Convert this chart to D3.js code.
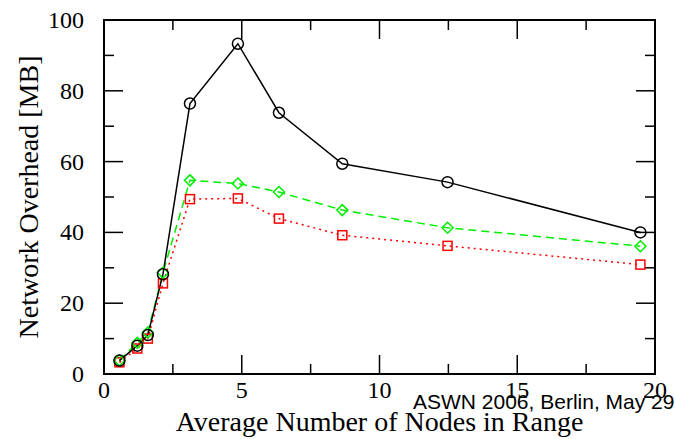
<!DOCTYPE html>
<html>
<head>
<meta charset="utf-8">
<script src="https://cdn.jsdelivr.net/npm/d3@7"></script>
<style>
  body { margin: 0; background: #fff; }
  svg { display: block; }
</style>
</head>
<body>
<svg></svg>
<script>
const [w, h] = [675, 439];
const m = {left: 104, right: 20, top: 20, bottom: 65};

// x: average number of nodes in range
const nodes = [0.56, 1.21, 1.59, 2.14, 3.12, 4.86, 6.35, 8.65, 12.47, 19.47];
// network overhead [MB]
const seriesBlack = [3.8, 8.0, 11.0, 28.2, 76.4, 93.3, 73.8, 59.4, 54.2, 40.0];
const seriesGreen = [3.9, 8.8, 11.7, 28.6, 54.7, 53.8, 51.4, 46.3, 41.3, 36.1];
const seriesRed   = [3.3, 7.2, 10.0, 25.6, 49.4, 49.6, 43.9, 39.2, 36.2, 30.9];

const xTicks = [0, 5, 10, 15, 20];
const xMinor = [2.5, 7.5, 12.5, 17.5];
const yTicks = [0, 20, 40, 60, 80, 100];
const yMinor = [10, 30, 50, 70, 90];

const svg = d3.select('svg').attr('width', w).attr('height', h);

const xScale = d3.scaleLinear().domain([0, 20]).range([m.left, w - m.right]);
const yScale = d3.scaleLinear().domain([0, 100]).range([h - m.bottom, m.top]);

const serif = 'Liberation Serif, Times New Roman, serif';
const major = 19, minor = 10;

// ticks on all four sides, pointing inward
const ticks = svg.append('g').attr('stroke', '#000').attr('stroke-width', 1.5);
xTicks.concat(xMinor).forEach(v => {
  const len = xTicks.includes(v) ? major : minor;
  ticks.append('line').attr('x1', xScale(v)).attr('x2', xScale(v))
    .attr('y1', yScale(0)).attr('y2', yScale(0) - len);
  ticks.append('line').attr('x1', xScale(v)).attr('x2', xScale(v))
    .attr('y1', yScale(100)).attr('y2', yScale(100) + len);
});
yTicks.concat(yMinor).forEach(v => {
  const len = yTicks.includes(v) ? major : minor;
  ticks.append('line').attr('y1', yScale(v)).attr('y2', yScale(v))
    .attr('x1', xScale(0)).attr('x2', xScale(0) + len);
  ticks.append('line').attr('y1', yScale(v)).attr('y2', yScale(v))
    .attr('x1', xScale(20)).attr('x2', xScale(20) - len);
});

svg.append('rect')
  .attr('x', xScale(0)).attr('y', yScale(100))
  .attr('width', xScale(20) - xScale(0)).attr('height', yScale(0) - yScale(100))
  .attr('fill', 'none').attr('stroke', '#000').attr('stroke-width', 2);

// tick labels
svg.append('g').selectAll('text').data(xTicks).enter().append('text')
  .attr('x', d => xScale(d)).attr('y', yScale(0) + 24)
  .attr('text-anchor', 'middle').attr('font-family', serif).attr('font-size', 24)
  .text(d => d);
svg.append('g').selectAll('text').data(yTicks).enter().append('text')
  .attr('x', xScale(0) - 20).attr('y', d => yScale(d) + 8)
  .attr('text-anchor', 'end').attr('font-family', serif).attr('font-size', 24)
  .text(d => d);

// axis titles
svg.append('text')
  .attr('x', (xScale(0) + xScale(20)) / 2).attr('y', 431)
  .attr('text-anchor', 'middle').attr('font-family', serif).attr('font-size', 28)
  .text('Average Number of Nodes in Range');
svg.append('text')
  .attr('transform', `translate(38, ${(yScale(0) + yScale(100)) / 2}) rotate(-90)`)
  .attr('text-anchor', 'middle').attr('font-family', serif).attr('font-size', 28)
  .text('Network Overhead [MB]');

const line = d3.line().x((d, i) => xScale(nodes[i])).y(d => yScale(d));

svg.append('path').datum(seriesRed).attr('d', line)
  .attr('fill', 'none').attr('stroke', '#ff0000').attr('stroke-width', 1.5)
  .attr('stroke-dasharray', '2,4');
svg.append('path').datum(seriesGreen).attr('d', line)
  .attr('fill', 'none').attr('stroke', '#00ee00').attr('stroke-width', 1.5)
  .attr('stroke-dasharray', '8,5');
svg.append('path').datum(seriesBlack).attr('d', line)
  .attr('fill', 'none').attr('stroke', '#000').attr('stroke-width', 1.5);

// markers
svg.append('g').selectAll('rect').data(seriesRed).enter().append('rect')
  .attr('x', (d, i) => xScale(nodes[i]) - 4.5).attr('y', d => yScale(d) - 4.5)
  .attr('width', 9).attr('height', 9)
  .attr('fill', 'none').attr('stroke', '#ff0000').attr('stroke-width', 1.5);
svg.append('g').selectAll('path').data(seriesGreen).enter().append('path')
  .attr('transform', (d, i) => `translate(${xScale(nodes[i])},${yScale(d)})`)
  .attr('d', 'M0,-5.5L5.5,0L0,5.5L-5.5,0Z')
  .attr('fill', 'none').attr('stroke', '#00ee00').attr('stroke-width', 1.5);
svg.append('g').selectAll('circle').data(seriesBlack).enter().append('circle')
  .attr('cx', (d, i) => xScale(nodes[i])).attr('cy', d => yScale(d))
  .attr('r', 5.5)
  .attr('fill', 'none').attr('stroke', '#000').attr('stroke-width', 1.5);

// footer note
svg.append('text')
  .attr('x', 413).attr('y', 409)
  .attr('font-family', 'Liberation Sans, Arial, sans-serif').attr('font-size', 21)
  .text('ASWN 2006, Berlin, May 29');
</script>
</body>
</html>
